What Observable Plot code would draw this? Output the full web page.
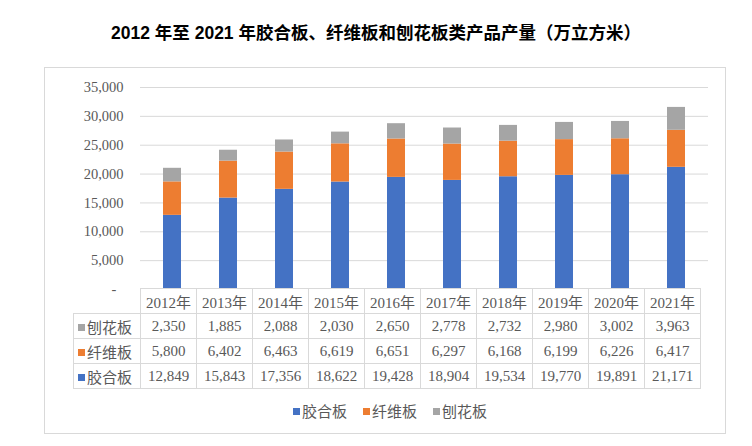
<!DOCTYPE html>
<html><head><meta charset="utf-8">
<script src="https://cdn.jsdelivr.net/npm/d3@7"></script>
<script src="https://cdn.jsdelivr.net/npm/@observablehq/plot@0.6"></script>
<style>
body{margin:0;background:#fff;width:752px;height:446px;position:relative;overflow:hidden;font-family:"Liberation Serif","Noto Sans CJK SC",serif;}
#title{position:absolute;left:0;width:752px;top:22px;line-height:22px;text-align:center;font-weight:bold;font-size:17.5px;font-family:"Liberation Sans","Noto Sans CJK SC",sans-serif;color:#000;}
#frame{position:absolute;left:44px;top:67px;width:680px;height:365px;border:1px solid #d9d9d9;}
#chart{position:absolute;left:0;top:0;}
#tbl{position:absolute;left:28px;top:220px;border-collapse:collapse;table-layout:fixed;color:#595959;font-size:15px;}
#tbl td{border:1px solid #d9d9d9;height:24px;padding:0;text-align:center;white-space:nowrap;overflow:hidden;}
#tbl td.blank{border:none;}
#tbl td.lab{text-align:left;padding-left:4px;}
.sq{display:inline-block;width:7px;height:7px;margin-right:2px;vertical-align:2px;}
#legend{position:absolute;left:0;width:680px;top:332px;display:flex;justify-content:center;gap:16px;color:#595959;font-size:15px;padding-left:10px;box-sizing:border-box;}
</style></head>
<body>
<div id="title">2012 年至 2021 年胶合板、纤维板和刨花板类产品产量（万立方米）</div>
<div id="frame"><div id="chart"></div><table id="tbl"></table><div id="legend"></div></div>
<script>
const years = ["2012年","2013年","2014年","2015年","2016年","2017年","2018年","2019年","2020年","2021年"];
const series = ["胶合板","纤维板","刨花板"];
const colors = ["#4472C4","#ED7D31","#A5A5A5"];
const plywood = [12849,15843,17356,18622,19428,18904,19534,19770,19891,21171];
const fiberboard = [5800,6402,6463,6619,6651,6297,6168,6199,6226,6417];
const particleboard = [2350,1885,2088,2030,2650,2778,2732,2980,3002,3963];
const yTicks = [0,5000,10000,15000,20000,25000,30000,35000];
const tableRows = ["刨花板","纤维板","胶合板"];

const valuesBySeries = {"胶合板": plywood, "纤维板": fiberboard, "刨花板": particleboard};
const data = [];
years.forEach((yr, i) => series.forEach(s => data.push({year: yr, series: s, value: valuesBySeries[s][i]})));

const fmt = d3.format(",");
const yFmt = d => d === 0 ? "-\u00a0\u00a0" : fmt(d);
const plot = Plot.plot({
  width: 680, height: 232,
  marginLeft: 95, marginRight: 17, marginTop: 19, marginBottom: 11,
  style: {fontFamily: '"Liberation Serif","Noto Sans CJK SC",serif', fontSize: "14.5px", color: "#595959", background: "transparent", overflow: "visible"},
  x: {type: "band", domain: years, paddingInner: 0.68, paddingOuter: 0.34, axis: null},
  y: {domain: [0, 35000], axis: null},
  color: {domain: series, range: colors},
  marks: [
    Plot.gridY(yTicks.filter(d => d > 0), {stroke: "#d9d9d9", strokeOpacity: 1}),
    Plot.barY(data, {x: "year", y: "value", fill: "series", order: series}),
    Plot.axisY({ticks: yTicks, tickSize: 0, tickPadding: 17, tickFormat: yFmt, label: null, fill: "#595959"})
  ]
});
document.getElementById("chart").appendChild(plot);

const xs = plot.scale("x");
const step = xs.step;
const tbl = document.getElementById("tbl");
const labW = 67;
tbl.style.width = (labW + step * years.length) + "px";
const cg = document.createElement("colgroup");
let c = document.createElement("col"); c.style.width = labW + "px"; cg.appendChild(c);
years.forEach(() => { const cc = document.createElement("col"); cc.style.width = step + "px"; cg.appendChild(cc); });
tbl.appendChild(cg);
let tr = document.createElement("tr");
let td = document.createElement("td"); td.className = "blank"; tr.appendChild(td);
years.forEach(y => { const t = document.createElement("td"); t.textContent = y; tr.appendChild(t); });
tbl.appendChild(tr);
tableRows.forEach(s => {
  const r = document.createElement("tr");
  const l = document.createElement("td"); l.className = "lab";
  l.innerHTML = `<span class="sq" style="background:${colors[series.indexOf(s)]}"></span>${s}`;
  r.appendChild(l);
  valuesBySeries[s].forEach(v => { const t = document.createElement("td"); t.textContent = fmt(v); r.appendChild(t); });
  tbl.appendChild(r);
});
const lg = document.getElementById("legend");
series.forEach((s, i) => {
  const it = document.createElement("div");
  it.innerHTML = `<span class="sq" style="background:${colors[i]}"></span>${s}`;
  lg.appendChild(it);
});
</script>
</body></html>
